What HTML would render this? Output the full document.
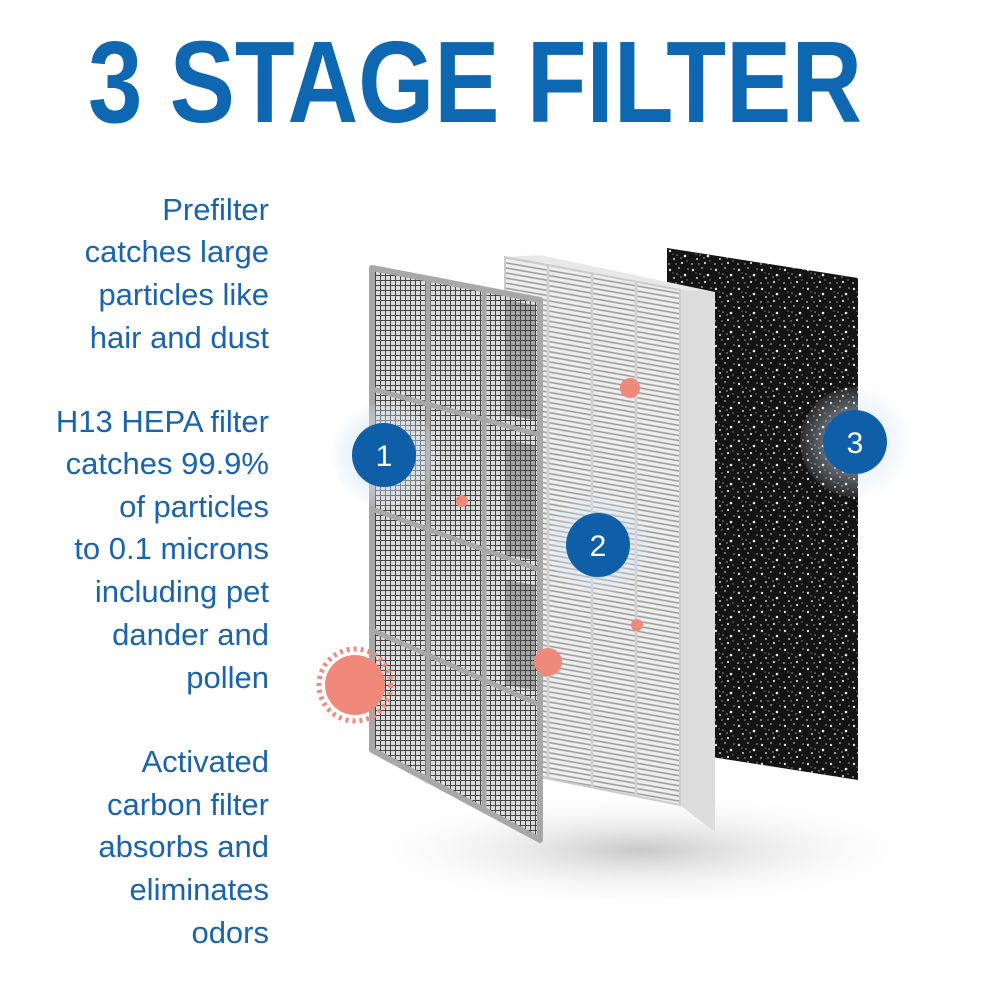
<!DOCTYPE html>
<html><head><meta charset="utf-8"><style>
html,body{margin:0;padding:0;background:#fff}
svg{display:block}
.t{font-family:"Liberation Sans",sans-serif;font-size:31px;fill:#1a63ad;text-anchor:end}
</style></head><body>
<svg width="1000" height="1000" viewBox="0 0 1000 1000" xmlns="http://www.w3.org/2000/svg">
<defs>
<radialGradient id="sh" cx="0.5" cy="0.5" r="0.5">
<stop offset="0" stop-color="#c8c8c8"/><stop offset="1" stop-color="#fff" stop-opacity="0"/>
</radialGradient>
<radialGradient id="halo" cx="0.5" cy="0.5" r="0.5">
<stop offset="0.45" stop-color="#cfe0f0" stop-opacity="0.9"/><stop offset="1" stop-color="#dde9f5" stop-opacity="0.2"/>
</radialGradient>
<pattern id="mesh" width="5" height="5" patternUnits="userSpaceOnUse">
<rect width="5" height="5" fill="#dcdcdc"/>
<path d="M0 0.5H5M0.5 0V5" stroke="#444" stroke-width="1"/>
</pattern>
<pattern id="pleat" width="6" height="5" patternUnits="userSpaceOnUse" patternTransform="rotate(10)">
<rect width="6" height="5" fill="#efefef"/>
<path d="M0 1H6" stroke="#999" stroke-width="1.5"/>
</pattern>
<pattern id="spk" width="23" height="19" patternUnits="userSpaceOnUse">
<rect width="23" height="19" fill="#141414"/>
<circle cx="3" cy="4" r="1.2" fill="#ddd"/><circle cx="12" cy="2" r="0.9" fill="#bbb"/>
<circle cx="18" cy="9" r="1.3" fill="#eee"/><circle cx="7" cy="12" r="1" fill="#ccc"/>
<circle cx="15" cy="16" r="1.1" fill="#ddd"/><circle cx="21" cy="3" r="0.8" fill="#aaa"/>
<circle cx="2" cy="17" r="0.9" fill="#bbb"/><circle cx="10" cy="8" r="0.8" fill="#999"/>
<circle cx="14" cy="11" r="0.7" fill="#bbb"/><circle cx="20" cy="14" r="0.7" fill="#888"/>
<circle cx="6" cy="7" r="0.6" fill="#999"/><circle cx="9" cy="17" r="0.7" fill="#aaa"/>
</pattern>
</defs>
<rect width="1000" height="1000" fill="#fff"/>
<text x="88" y="122" font-family="Liberation Sans, sans-serif" font-weight="bold" font-size="116" fill="#0d68b1" textLength="774" lengthAdjust="spacingAndGlyphs">3 STAGE FILTER</text>

<g class="t">
<text x="269" y="220" class="t">Prefilter</text>
<text x="269" y="262" class="t">catches large</text>
<text x="269" y="305" class="t">particles like</text>
<text x="269" y="348" class="t">hair and dust</text>
<text x="269" y="432" class="t">H13 HEPA filter</text>
<text x="269" y="474" class="t">catches 99.9%</text>
<text x="269" y="517" class="t">of particles</text>
<text x="269" y="559" class="t">to 0.1 microns</text>
<text x="269" y="602" class="t">including pet</text>
<text x="269" y="645" class="t">dander and</text>
<text x="269" y="688" class="t">pollen</text>
<text x="269" y="772" class="t">Activated</text>
<text x="269" y="815" class="t">carbon filter</text>
<text x="269" y="857" class="t">absorbs and</text>
<text x="269" y="900" class="t">eliminates</text>
<text x="269" y="943" class="t">odors</text>
</g>

<ellipse cx="640" cy="850" rx="300" ry="60" fill="url(#sh)"/>

<polygon points="667,248 858,278 858,780 667,750" fill="url(#spk)"/>

<polygon points="505,257 540,255 715,292 680,292" fill="#e8e8e8"/>
<polygon points="680,290 715,292 715,832 680,805" fill="#dcdcdc"/>
<polygon points="505,257 680,290 680,805 505,770" fill="url(#pleat)"/>
<g stroke="#d0d0d0" stroke-width="3">
<line x1="548" y1="265" x2="548" y2="779"/><line x1="592" y1="274" x2="592" y2="788"/><line x1="636" y1="282" x2="636" y2="796"/>
</g>
<polygon points="505,257 680,290 680,805 505,770" fill="none" stroke="#ccc" stroke-width="2"/>

<circle cx="855" cy="442" r="55" fill="url(#halo)" opacity="0.55"/>
<circle cx="598" cy="545" r="50" fill="url(#halo)" opacity="0.7"/>

<polygon points="372,268 540,300 540,840 372,750" fill="url(#mesh)"/>
<g fill="none" stroke="#a8a8a8" stroke-width="6" stroke-linejoin="round">
<polygon points="372,268 540,300 540,840 372,750"/>
</g>
<g stroke="#a8a8a8" stroke-width="5">
<line x1="428" y1="279" x2="428" y2="780"/>
<line x1="484" y1="289" x2="484" y2="810"/>
<line x1="372" y1="389" x2="540" y2="435"/>
<line x1="372" y1="509" x2="540" y2="570"/>
<line x1="372" y1="630" x2="540" y2="705"/>
</g>
<g fill="#444" opacity="0.35">
<polygon points="505,300 535,305 535,420 505,415"/>
<polygon points="505,440 535,445 535,560 505,555"/>
<polygon points="505,580 535,585 535,690 505,685"/>
</g>

<circle cx="384" cy="455" r="52" fill="url(#halo)" opacity="0.7"/>

<circle cx="355" cy="685" r="30" fill="#f0897a"/>
<circle cx="355" cy="685" r="36" fill="none" stroke="#f0897a" stroke-width="5" stroke-dasharray="3 4"/>
<circle cx="548" cy="662" r="14" fill="#ef8a7b"/>
<circle cx="630" cy="388" r="10" fill="#ef8a7b"/>
<circle cx="462" cy="501" r="6" fill="#ef8a7b"/>
<circle cx="637" cy="625" r="6" fill="#ef8a7b"/>

<g font-family="Liberation Sans, sans-serif" font-size="30" fill="#fff" text-anchor="middle">
<circle cx="384" cy="455" r="32" fill="#0f5fa8"/><text x="384" y="466">1</text>
<circle cx="598" cy="545" r="32" fill="#0f5fa8"/><text x="598" y="556">2</text>
<circle cx="855" cy="442" r="32" fill="#0f5fa8"/><text x="855" y="453">3</text>
</g>
</svg>
</body></html>
